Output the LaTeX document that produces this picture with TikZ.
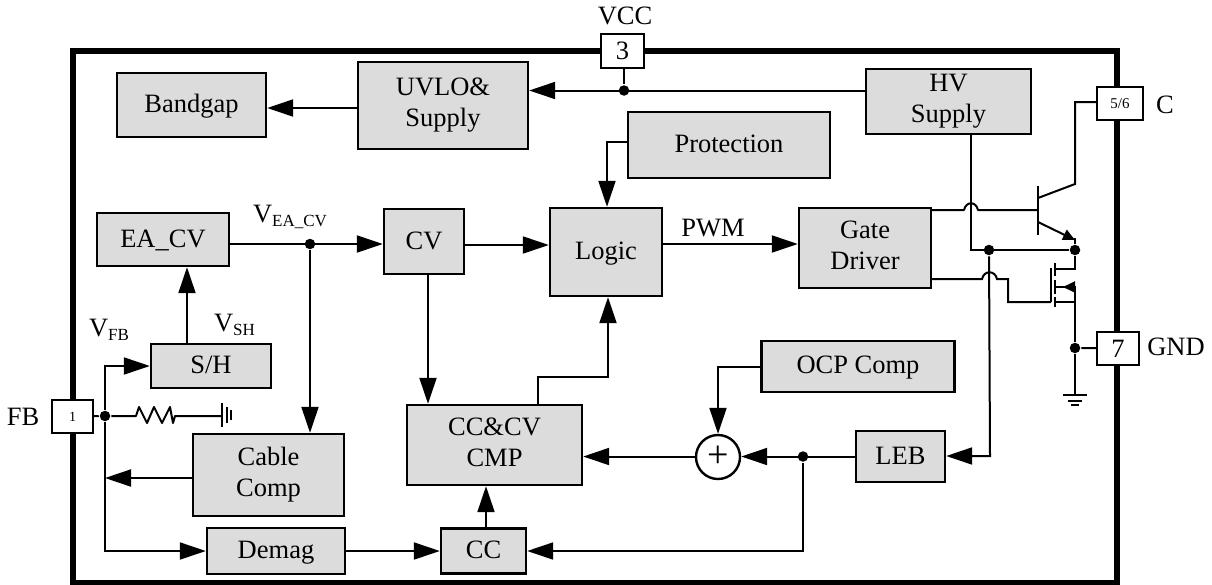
\documentclass[tikz,border=0pt]{standalone}
\usepackage{fontspec}
\setmainfont{Liberation Serif}
\usepackage{xcolor}
\definecolor{colorBlock}{HTML}{DCDCDC}
\usetikzlibrary{arrows.meta, positioning, calc}
\newcommand{\lowtxt}[1]{\raisebox{-4.5pt}{\fontsize{17}{17}\selectfont #1}}
\newcommand{\blockstrut}{\rule[-5pt]{0pt}{25pt}}
\tikzset{
  wire/.style={line width=2pt},
  blockbox/.style={draw, line width=2.4pt, fill=colorBlock, inner sep=0pt, align=center, font=\fontsize{26.5}{31}\selectfont, execute at begin node=\blockstrut, execute at end node=\blockstrut},
  pinbox/.style={draw, line width=2.4pt, fill=white, inner sep=0pt, font=\fontsize{26.5}{30}\selectfont},
  sumbox/.style={draw, circle, line width=2.4pt, fill=white, inner sep=0pt, minimum size=44pt, font=\fontsize{38}{38}\selectfont},
  dotnode/.style={circle, fill=black, inner sep=0pt, minimum size=10.5pt},
  txt/.style={inner sep=0pt, anchor=base, font=\fontsize{26.5}{30}\selectfont},
  smalltip/.style={-{Triangle[length=12pt,width=11pt]}},
}
\begin{document}
\begin{tikzpicture}[x=1pt, y=-1pt, >={Triangle[length=26pt,width=17pt]}, wire]
\useasboundingbox (0,0) rectangle (1212,584);
\node[draw, line width=6pt, minimum width=1044pt, minimum height=532pt, inner sep=0pt] (frame) at (595,317) {};
% blocks
\node[blockbox, minimum width=149pt, minimum height=64pt] (bandgap) at (191.5,105) {Bandgap};
\node[blockbox, minimum width=170pt, minimum height=87pt] (uvlo) at (443,105.5) {UVLO\&\\Supply};
\node[blockbox, minimum width=165pt, minimum height=65pt] (hv) at (948.5,101.5) {HV\\Supply};
\node[blockbox, minimum width=202pt, minimum height=66pt] (protection) at (729,145) {Protection};
\node[blockbox, minimum width=132pt, minimum height=53pt] (eacv) at (163,239.5) {EA\_CV};
\node[blockbox, minimum width=80pt, minimum height=65pt] (cv) at (424,241.5) {CV};
\node[blockbox, minimum width=112pt, minimum height=88pt] (logic) at (606,252) {Logic};
\node[blockbox, minimum width=132pt, minimum height=80pt] (gate) at (865,248) {Gate\\Driver};
\node[blockbox, minimum width=120pt, minimum height=44pt] (sh) at (211,366) {S/H};
\node[blockbox, minimum width=193pt, minimum height=51pt] (ocp) at (858,366.5) {OCP Comp};
\node[blockbox, minimum width=175pt, minimum height=80pt] (cmp) at (494.5,445) {CC\&CV\\CMP};
\node[blockbox, minimum width=151pt, minimum height=82pt] (cable) at (268.5,475) {Cable\\Comp};
\node[blockbox, minimum width=89pt, minimum height=51pt] (leb) at (900.5,456.5) {LEB};
\node[blockbox, minimum width=138pt, minimum height=46pt] (demag) at (276,551) {Demag};
\node[blockbox, minimum width=85pt, minimum height=45pt] (cc) at (483.5,551) {CC};
\node[sumbox] (sum) at (718,457) {+};
% pins
\node[pinbox, minimum width=43pt, minimum height=34pt] (pinvcc) at (622.5,51) {3};
\node[pinbox, minimum width=41pt, minimum height=33pt, font=\fontsize{14}{14}\selectfont] (pinfb) at (72.5,416.5) {1};
\node[pinbox, minimum width=46pt, minimum height=33pt, font=\fontsize{15}{15}\selectfont] (pinc) at (1120,103.5) {5/6};
\node[pinbox, minimum width=42pt, minimum height=33pt] (pingnd) at (1118,348.5) {7};
% labels
\node[txt] (lvcc) at (625,24) {VCC};
\node[txt] (lfb) at (23,425) {FB};
\node[txt] (lc) at (1165,113) {C};
\node[txt] (lgnd) at (1176,355) {GND};
\node[txt] (lpwm) at (713,236) {PWM};
\node[txt, anchor=base west] (lea) at (252,222) {V\lowtxt{EA\_CV}};
\node[txt, anchor=base west] (lvfb) at (88,336) {V\lowtxt{FB}};
\node[txt, anchor=base west] (lvsh) at (213,331) {V\lowtxt{SH}};
% junctions
\node[dotnode] (jvcc) at (624,90.5) {};
\node[dotnode] (jea) at (310,244) {};
\node[dotnode] (jfb) at (105,416) {};
\node[dotnode] (jleb) at (803,456.5) {};
\node[dotnode] (jsup) at (989,250) {};
\node[dotnode] (jq) at (1075,250) {};
\node[dotnode] (jgnd) at (1075,348) {};
% supply
\draw (pinvcc.south -| jvcc) -- (jvcc);
\draw[->] (hv.west |- jvcc) -- (uvlo.east |- jvcc);
\draw[->] (uvlo.west |- 0,108) -- (bandgap.east |- 0,108);
% control path
\draw[->] (eacv.east |- jea) -- (cv.west |- jea);
\draw[->] (sh.north -| 187,0) -- (eacv.south -| 187,0);
\draw[->] (jea) -- (cable.north -| jea);
\draw[->] (cv.east |- 0,245) -- (logic.west |- 0,245);
\draw[->] (logic.east |- 0,244) -- (gate.west |- 0,244);
\draw[->] (protection.west |- 0,142) -- (607,142) -- (logic.north -| 607,0);
\draw[->] (cv.south -| 428,0) -- (cmp.north -| 428,0);
\draw[->] (cmp.north -| 538,0) |- (608,377) -- (logic.south -| 608,0);
% current sense
\draw[->] (leb.west) -- (sum.east |- leb);
\draw[->] (sum.west |- leb) -- (cmp.east |- leb);
\draw[->] (ocp.west) -| (sum.north);
\draw[->] (jleb) |- (cc.east);
\draw[->] (demag) -- (cc);
\draw[->] (cc.north -| 486,0) -- (cmp.south -| 486,0);
% fb pin
\draw (pinfb) -- (jfb);
\draw[->] (jfb) |- (sh.west);
\draw[->] (jfb) |- (demag.west);
\draw[->] (cable.west |- 0,478) -- (jfb |- 0,478);
\coordinate (rgnd) at (222,416);
\draw[line join=round] (jfb) -- (136,416) -- (139,407) -- (147,423) -- (154,407) -- (162,423) -- (170,407) -- (173,423) -- (175,416) -- (rgnd);
\draw (222,403) -- (222,427) (227,407) -- (227,423) (231,410) -- (231,420);
% bipolar
\draw[line cap=round, line join=round] (gate.east |- 0,210) -- (964,210) .. controls (966,201) and (976,201) .. (978,210) -- (1038,210);
\draw (1038,186) -- (1038,235);
\draw (1038,198) -- (1075,184) -- (1075,102) -- (pinc.west |- 0,102);
\draw[smalltip] (1038,222) -- (1075,240);
\draw (1075,238) -- (jq);
% supply to bus
\draw (hv.south -| 971,0) -- (971,250) -- (jq);
\draw[->] (jsup) -- (990,456) -- (leb.east |- 0,456);
% mosfet
\draw (gate.east |- 0,279) -- (982,279) .. controls (984,270) and (995,270) .. (997,279) -- (1008,279) -- (1008,302) -- (1051,302);
\draw (1051,268) -- (1051,302);
\draw (1055,263) -- (1055,276) (1055,280) -- (1055,294) (1055,297) -- (1055,307);
\draw (1055,269) -- (1075,269) -- (jq);
\draw (1055,287) -- (1075,287);
\draw[smalltip] (1075,287) -- (1063,287);
\draw (1055,302) -- (1075,302) -- (1075,287);
\draw (1075,302) -- (jgnd);
\draw (jgnd) -- (pingnd);
\draw (jgnd) -- (1075,395);
\draw (1063,395) -- (1087,395) (1068,401) -- (1082,401) (1071,405) -- (1079,405);
\end{tikzpicture}
\end{document}
